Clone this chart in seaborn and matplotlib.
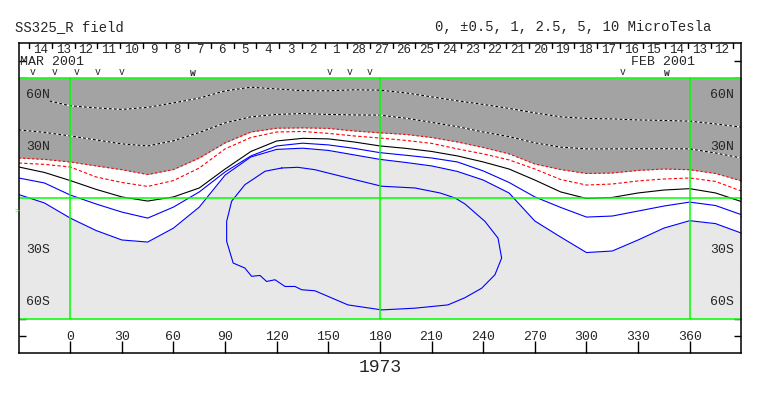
import numpy as np
import pandas as pd
import matplotlib
matplotlib.use("Agg")
import matplotlib.pyplot as plt
import seaborn as sns

# longitude grid the contour crossings were read on (deg)
lons = [-30, -15, 0, 15, 30, 45, 60, 75, 90, 105, 120, 135, 150, 165, 180,
        195, 210, 225, 240, 255, 270, 285, 300, 315, 330, 345, 360, 375, 390]

# latitude of each contour level at those longitudes
lat_p25 = [39.7, 38.3, 36.2, 33.9, 31.6, 30.4, 33.4, 38.2, 43.8, 47.3, 48.7, 49.2, 48.7, 48.4, 48.3,
           46.5, 44.1, 41.6, 38.5, 35.8, 32.2, 29.7, 28.7, 28.7, 28.8, 28.8, 28.7, 26.3, 23.4]
lat_p1 = [23.4, 22.6, 21.1, 18.8, 16.6, 13.8, 16.7, 23.4, 32.2, 38.5, 40.7, 40.9, 40.6, 39.1, 38.0,
          37.1, 35.3, 32.7, 29.5, 25.8, 19.9, 16.7, 14.4, 14.7, 16.2, 17.0, 16.6, 14.4, 10.1]
lat_p05 = [20.5, 19.7, 18.2, 12.4, 9.2, 6.9, 10.3, 17.6, 28.7, 35.3, 38.5, 38.8, 37.7, 36.2, 35.0,
           33.6, 31.9, 28.7, 25.8, 22.3, 17.0, 10.9, 7.7, 8.3, 10.1, 11.2, 11.8, 9.8, 4.2]
lat_0 = [18.2, 15.0, 10.3, 5.2, 0.8, -1.6, 0.8, 6.0, 17.0, 27.2, 33.3, 34.8, 34.5, 32.7, 30.4,
         29.0, 27.2, 24.6, 21.1, 17.0, 10.6, 3.7, -0.1, 0.5, 3.1, 4.8, 5.6, 3.1, -1.9]
lat_m05 = [11.8, 8.9, 1.9, -3.3, -8.0, -11.5, -5.1, 3.7, 15.3, 24.6, 30.4, 32.0, 31.0, 29.0, 26.5,
           25.0, 23.4, 21.1, 15.9, 9.2, 0.8, -5.3, -10.9, -10.3, -7.4, -4.5, -2.2, -4.2, -9.5]
lat_m1 = [2.2, -2.7, -11.5, -18.7, -24.2, -25.4, -17.3, -5.1, 13.5, 24.0, 28.4, 29.1, 27.8, 25.2, 22.6,
          20.8, 18.8, 15.6, 10.6, 3.1, -13.2, -22.5, -31.5, -30.6, -24.2, -17.3, -13.0, -14.7, -20.2]

# +5 level starts a bit further east
lons_p5 = [-12, 0, 15, 30, 45, 60, 75, 90, 105, 120, 135, 150, 165, 180,
           195, 210, 225, 240, 255, 270, 285, 300, 315, 330, 345, 360, 375, 390]
lat_p5 = [56.5, 53.7, 52.5, 51.6, 52.8, 55.4, 58.2, 62.4, 64.5, 63.5, 62.5, 62.4, 63.0, 62.8,
          61.2, 58.9, 56.6, 54.5, 52.2, 49.6, 47.3, 46.4, 46.1, 45.5, 45.2, 44.8, 43.2, 41.3]

# closed -2.5 loop
loop_lon = [122.9, 132.3, 142.2, 161.4, 181.0, 200.3, 214.9, 223.6, 229.4, 241.0, 248.6, 250.7,
            246.8, 239.1, 229.4, 219.5, 200.3, 181.0, 161.4, 142.2, 134.5, 130.6, 124.8, 119.0,
            114.1, 110.3, 105.4, 101.5, 94.7, 90.9, 90.9, 93.8, 101.5, 113.2, 122.9]
loop_lat = [17.6, 18.0, 16.6, 11.8, 7.0, 6.0, 3.1, 0.2, -3.3, -13.4, -23.1, -34.7,
            -44.4, -52.2, -57.7, -61.9, -63.8, -64.8, -61.9, -53.7, -53.1, -51.2, -51.2, -47.3,
            -48.3, -44.8, -45.3, -40.5, -37.6, -25.0, -13.4, -1.7, 7.9, 15.7, 17.6]

day_labels = ['14', '13', '12', '11', '10', '9', '8', '7', '6', '5', '4', '3', '2', '1',
              '28', '27', '26', '25', '24', '23', '22', '21', '20', '19', '18', '17', '16',
              '15', '14', '13', '12']
obs_lon = [-21.7, -8.9, 3.9, 16.1, 30.0, 150.9, 162.5, 174.1, 321.2]
obs2_lon = [71.3, 346.8]

lon_ticks = list(range(0, 361, 30))
lat_ticks_n = [60, 30]
lat_ticks_s = [-30, -60]

sns.set_style("white")
plt.rcParams['font.family'] = ['Liberation Mono', 'DejaVu Sans Mono']

fig = plt.figure(figsize=(7.63, 3.96), dpi=100)
ax = fig.add_axes([19.3 / 763, 1 - 353.3 / 396, 721.7 / 763, 310 / 396])
ax.set_xlim(-29.6, 389.8)
ax.set_ylim(-90, 90)

x0, x1 = -29.6, 389.8
# map background
ax.fill_between([x0, x1], -70, 70, color='white', lw=0)
ax.fill_between(lons, lat_p1, 70, color='#a3a3a3', lw=0)
ax.fill_between(lons, -70, lat_m1, color='#e8e8e8', lw=0)

lw = 0.8
for lo, la in [(lons_p5, lat_p5), (lons, lat_p25)]:
    sns.lineplot(x=lo, y=la, color='white', lw=lw, ax=ax, sort=False, estimator=None)
    sns.lineplot(x=lo, y=la, color='black', lw=lw, linestyle=(0, (2.5, 2)), ax=ax,
                 sort=False, estimator=None)
sns.lineplot(x=lons, y=lat_p1, color='red', lw=lw, linestyle=(0, (2, 2)), ax=ax,
             sort=False, estimator=None)
sns.lineplot(x=lons, y=lat_p05, color='red', lw=lw, linestyle=(0, (3, 2)), ax=ax,
             sort=False, estimator=None)
sns.lineplot(x=lons, y=lat_0, color='black', lw=lw, ax=ax, sort=False, estimator=None)
sns.lineplot(x=lons, y=lat_m05, color='blue', lw=lw, ax=ax, sort=False, estimator=None)
sns.lineplot(x=lons, y=lat_m1, color='blue', lw=lw, ax=ax, sort=False, estimator=None)
sns.lineplot(x=loop_lon, y=loop_lat, color='blue', lw=lw, ax=ax, sort=False, estimator=None)

green = '#00ff00'
for la in [70, 0, -70]:
    ax.axhline(la, color=green, lw=1.1)
for lo in [0, 180, 360]:
    ax.plot([lo, lo], [-70, 70], color=green, lw=1.1)

# frame + ticks
for s in ax.spines.values():
    s.set_color('black')
    s.set_linewidth(1.1)
ax.set_yticks(range(-80, 81, 10))
ax.set_xticks(lon_ticks)
ax.tick_params(axis='y', direction='in', length=5, width=1, left=True, right=True,
               labelleft=False, colors='black')
ax.tick_params(axis='x', direction='in', length=9, width=1, bottom=True, top=False,
               labelbottom=False, colors='black')
ax.grid(False)

fs = 9.5
for lo in lon_ticks:
    ax.text(lo, -80.6, str(lo), ha='center', va='center', fontsize=fs)
for la in lat_ticks_n + lat_ticks_s:
    lab = f"{abs(la)}{'N' if la > 0 else 'S'}"
    ax.text(-25.5, la, lab, ha='left', va='center', fontsize=fs)
    ax.text(386.0, la, lab, ha='right', va='center', fontsize=fs)

# date strip
step = 13.2
for k, d in enumerate(day_labels):
    ax.text(-17.2 + k * step, 86.0, d, ha='center', va='center', fontsize=9)
for k in range(len(day_labels) + 1):
    ax.plot([-23.8 + k * step] * 2, [90, 87], color='black', lw=1)
ax.text(-29.4, 79.2, 'MAR 2001', ha='left', va='center', fontsize=fs)
ax.text(325.7, 79.2, 'FEB 2001', ha='left', va='center', fontsize=fs)
for lo in obs_lon:
    ax.text(lo, 73.2, 'v', ha='center', va='center', fontsize=7)
for lo in obs2_lon:
    ax.text(lo, 72.8, 'w', ha='center', va='center', fontsize=7, fontweight='bold')

fig.text(15 / 763, 1 - 27 / 396, 'SS325_R field', ha='left', va='center', fontsize=10)
fig.text(711 / 763, 1 - 27 / 396, '0, \u00b10.5, 1, 2.5, 5, 10 MicroTesla', ha='right',
         va='center', fontsize=10)
fig.text(380 / 763, 1 - 367 / 396, '1973', ha='center', va='center', fontsize=13)
fig.text(16.7 / 763, 1 - 210.7 / 396, '>', ha='center', va='center', fontsize=6, color=green)

fig.savefig('out.png', dpi=100)
